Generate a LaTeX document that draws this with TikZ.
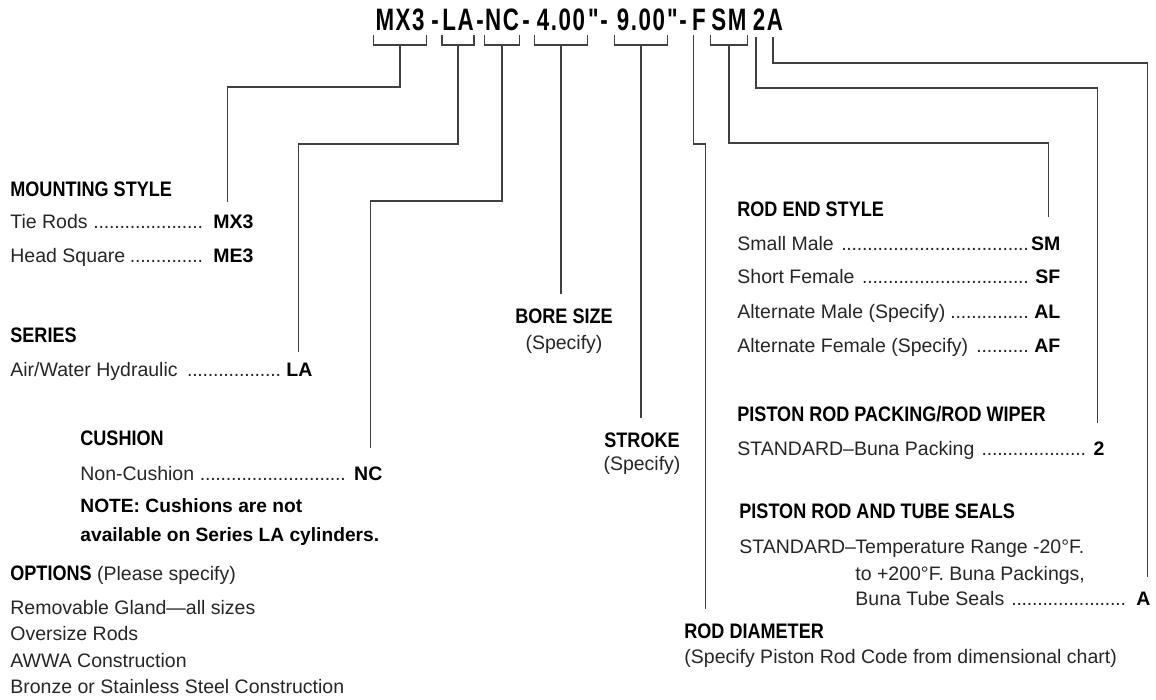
\documentclass[tikz,border=0pt]{standalone}
\usepackage{fontspec}
\setmainfont{Liberation Sans}
\newfontfamily\condfont{Liberation Sans}[FakeStretch=0.86]
\newfontfamily\titlefont{Liberation Sans}[FakeStretch=0.72,LetterSpace=5]
\usepackage{tikz}
\newcommand{\dotline}{\leaders\hbox to 2.6pt{\hss.\hss}\hskip 0pt plus 1filll}
\newcommand{\codeval}[1]{\textcolor{black}{\bfseries #1}}

\begin{document}
\begin{tikzpicture}[
  x=0.5pt, y=-0.5pt,
  code/.style={font=\titlefont\bfseries\fontsize{15.5}{17}\selectfont, inner sep=0pt, anchor=base},
  head/.style={font=\condfont\bfseries\fontsize{10.5}{12}\selectfont, inner sep=0pt, anchor=base west},
  tag/.style={head, anchor=base, inner ysep=7pt},
  entry/.style={font=\fontsize{9.75}{12}\selectfont, text=black!85, inner sep=0pt, anchor=base west},
  row/.style={entry, align=justify},
  note/.style={font=\bfseries\fontsize{9.6}{14.5}\selectfont, inner sep=0pt, anchor=north west, align=left},
  lead/.style={draw=black!75, line width=0.65pt}
]
\useasboundingbox (0,0) rectangle (1156,700);

% codice
\node[code, minimum width=26pt] (mx3)  at (400,31) {MX3};
\node[code]                     (d1)   at (435,31) {-};
\node[code, minimum width=14pt] (la)   at (458,31) {LA};
\node[code]                     (d2)   at (480,31) {-};
\node[code, minimum width=15pt] (nc)   at (502,31) {NC};
\node[code]                     (d3)   at (526,31) {-};
\node[code, minimum width=26pt] (bore) at (561,31) {4.00};
\node[code]                     (q1)   at (598,31) {"-};
\node[code, minimum width=26pt] (strk) at (641,31) {9.00};
\node[code]                     (q2)   at (677,31) {"-};
\node[code]                     (rd)   at (699,31) {F};
\node[code, minimum width=18pt] (sm)   at (729,31) {SM};
\node[code]                     (pk)   at (759,31) {2};
\node[code]                     (sl)   at (775,31) {A};

% colonna sinistra
\node[head] (mounthd) at (10,197) {MOUNTING STYLE};
\node[row, text width=121.5pt] (tierods) at (10,229) {Tie Rods \dotline\ \codeval{MX3}};
\node[row, text width=121.5pt] (headsq)  at (10,263) {Head Square\dotline\ \codeval{ME3}};
\node[head] (serieshd) at (10,343) {SERIES};
\node[row, text width=151pt] (airwater) at (10,376) {Air/Water Hydraulic \dotline\ \codeval{LA}};
\node[head] (cushhd) at (80,445) {CUSHION};
\node[row, text width=151pt] (noncush) at (80,480) {Non-Cushion \dotline\ \codeval{NC}};
\node[note] (cushnote) at (80,498) {NOTE: Cushions are not\\available on Series LA cylinders.};
\node[entry] (opthd) at (10,580) {{\condfont\bfseries\fontsize{10.5}{12}\selectfont\color{black}OPTIONS} (Please specify)};
\node[entry, anchor=north west, align=left, font=\fontsize{9.75}{13.17}\selectfont] (optlist) at (10,600)
  {Removable Gland—all sizes\\Oversize Rods\\AWWA Construction\\Bronze or Stainless Steel Construction};

% centro
\node[tag] (borehd) at (564,323) {BORE SIZE};
\node[entry, anchor=base] (borespec) at (564,350) {(Specify)};
\node[tag] (strokehd) at (642,447) {STROKE};
\node[entry, anchor=base] (strokespec) at (642,470) {(Specify)};
\node[head, inner ysep=7pt] (rodhd) at (684,638) {ROD DIAMETER};
\node[entry] (rodspec) at (684,663) {(Specify Piston Rod Code from dimensional chart)};

% colonna destra
\node[head] (endhd) at (737,217) {ROD END STYLE};
\node[row, text width=161.5pt] (smallmale) at (737,251) {Small Male \dotline\codeval{SM}};
\node[row, text width=161.5pt] (shortfem)  at (737,284) {Short Female \dotline\ \codeval{SF}};
\node[row, text width=161.5pt] (altmale)   at (737,318) {Alternate Male (Specify)\dotline\ \codeval{AL}};
\node[row, text width=161.5pt] (altfem)    at (737,352) {Alternate Female (Specify) \dotline\ \codeval{AF}};
\node[head] (packhd) at (737,421) {PISTON ROD PACKING/ROD WIPER};
\node[row, text width=183.5pt] (bunapack) at (737,455) {STANDARD–Buna Packing \dotline\ \codeval{2}};
\node[head] (sealhd) at (739,518) {PISTON ROD AND TUBE SEALS};
\node[entry] (sealstd)   at (739,553) {STANDARD–};
\node[entry] (temprange) at (855,553) {Temperature Range -20°F.};
\node[entry] (tempto)    at (855,580) {to +200°F. Buna Packings,};
\node[row, text width=147.5pt] (tubeseals) at (855,605) {Buna Tube Seals \dotline\ \codeval{A}};

% parentesi
\draw[lead] ([yshift=-2pt]mx3.base west)  -- ++(0,10) -| ([yshift=-2pt]mx3.base east);
\draw[lead] ([yshift=-2pt]la.base west)   -- ++(0,10) -| ([yshift=-2pt]la.base east);
\draw[lead] ([yshift=-2pt]nc.base west)   -- ++(0,10) -| ([yshift=-2pt]nc.base east);
\draw[lead] ([yshift=-2pt]bore.base west) -- ++(0,10) -| ([yshift=-2pt]bore.base east);
\draw[lead] ([yshift=-2pt]strk.base west) -- ++(0,10) -| ([yshift=-2pt]strk.base east);
\draw[lead] ([yshift=-2pt]sm.base west)   -- ++(0,10) -| ([yshift=-2pt]sm.base east);

% linee di richiamo
\draw[lead] ([yshift=-7pt]mx3.base) -- ++(0,42)  -| ([xshift=-13pt,yshift=13.5pt]tierods.base east);
\draw[lead] ([yshift=-7pt]la.base)  -- ++(0,99)  -| ([xshift=-7pt,yshift=12pt]airwater.base east);
\draw[lead] ([yshift=-7pt]nc.base)  -- ++(0,156) -| ([xshift=-6pt,yshift=16pt]noncush.base east);
\draw[lead] ([yshift=-7pt]bore.base) -- (bore.base |- borehd.north);
\draw[lead] ([yshift=-7pt]strk.base) -- (strk.base |- strokehd.north);
\draw[lead] ([xshift=1pt,yshift=-2pt]rd.base west) -- ++(0,109) -- ++(12,0) coordinate (rdjog) -- (rdjog |- rodhd.north);
\draw[lead] ([yshift=-7pt]sm.base)  -- ++(0,98)  -| ([xshift=-6pt,yshift=17pt]smallmale.base east);
\draw[lead] ([xshift=-1.5pt,yshift=-3pt]pk.base) -- ++(0,51) -| ([xshift=-3.5pt,yshift=16pt]bunapack.base east);
\draw[lead] ([xshift=-1pt,yshift=-3pt]sl.base)   -- ++(0,26) -| ([xshift=-1.5pt,yshift=14pt]tubeseals.base east);
\end{tikzpicture}
\end{document}
